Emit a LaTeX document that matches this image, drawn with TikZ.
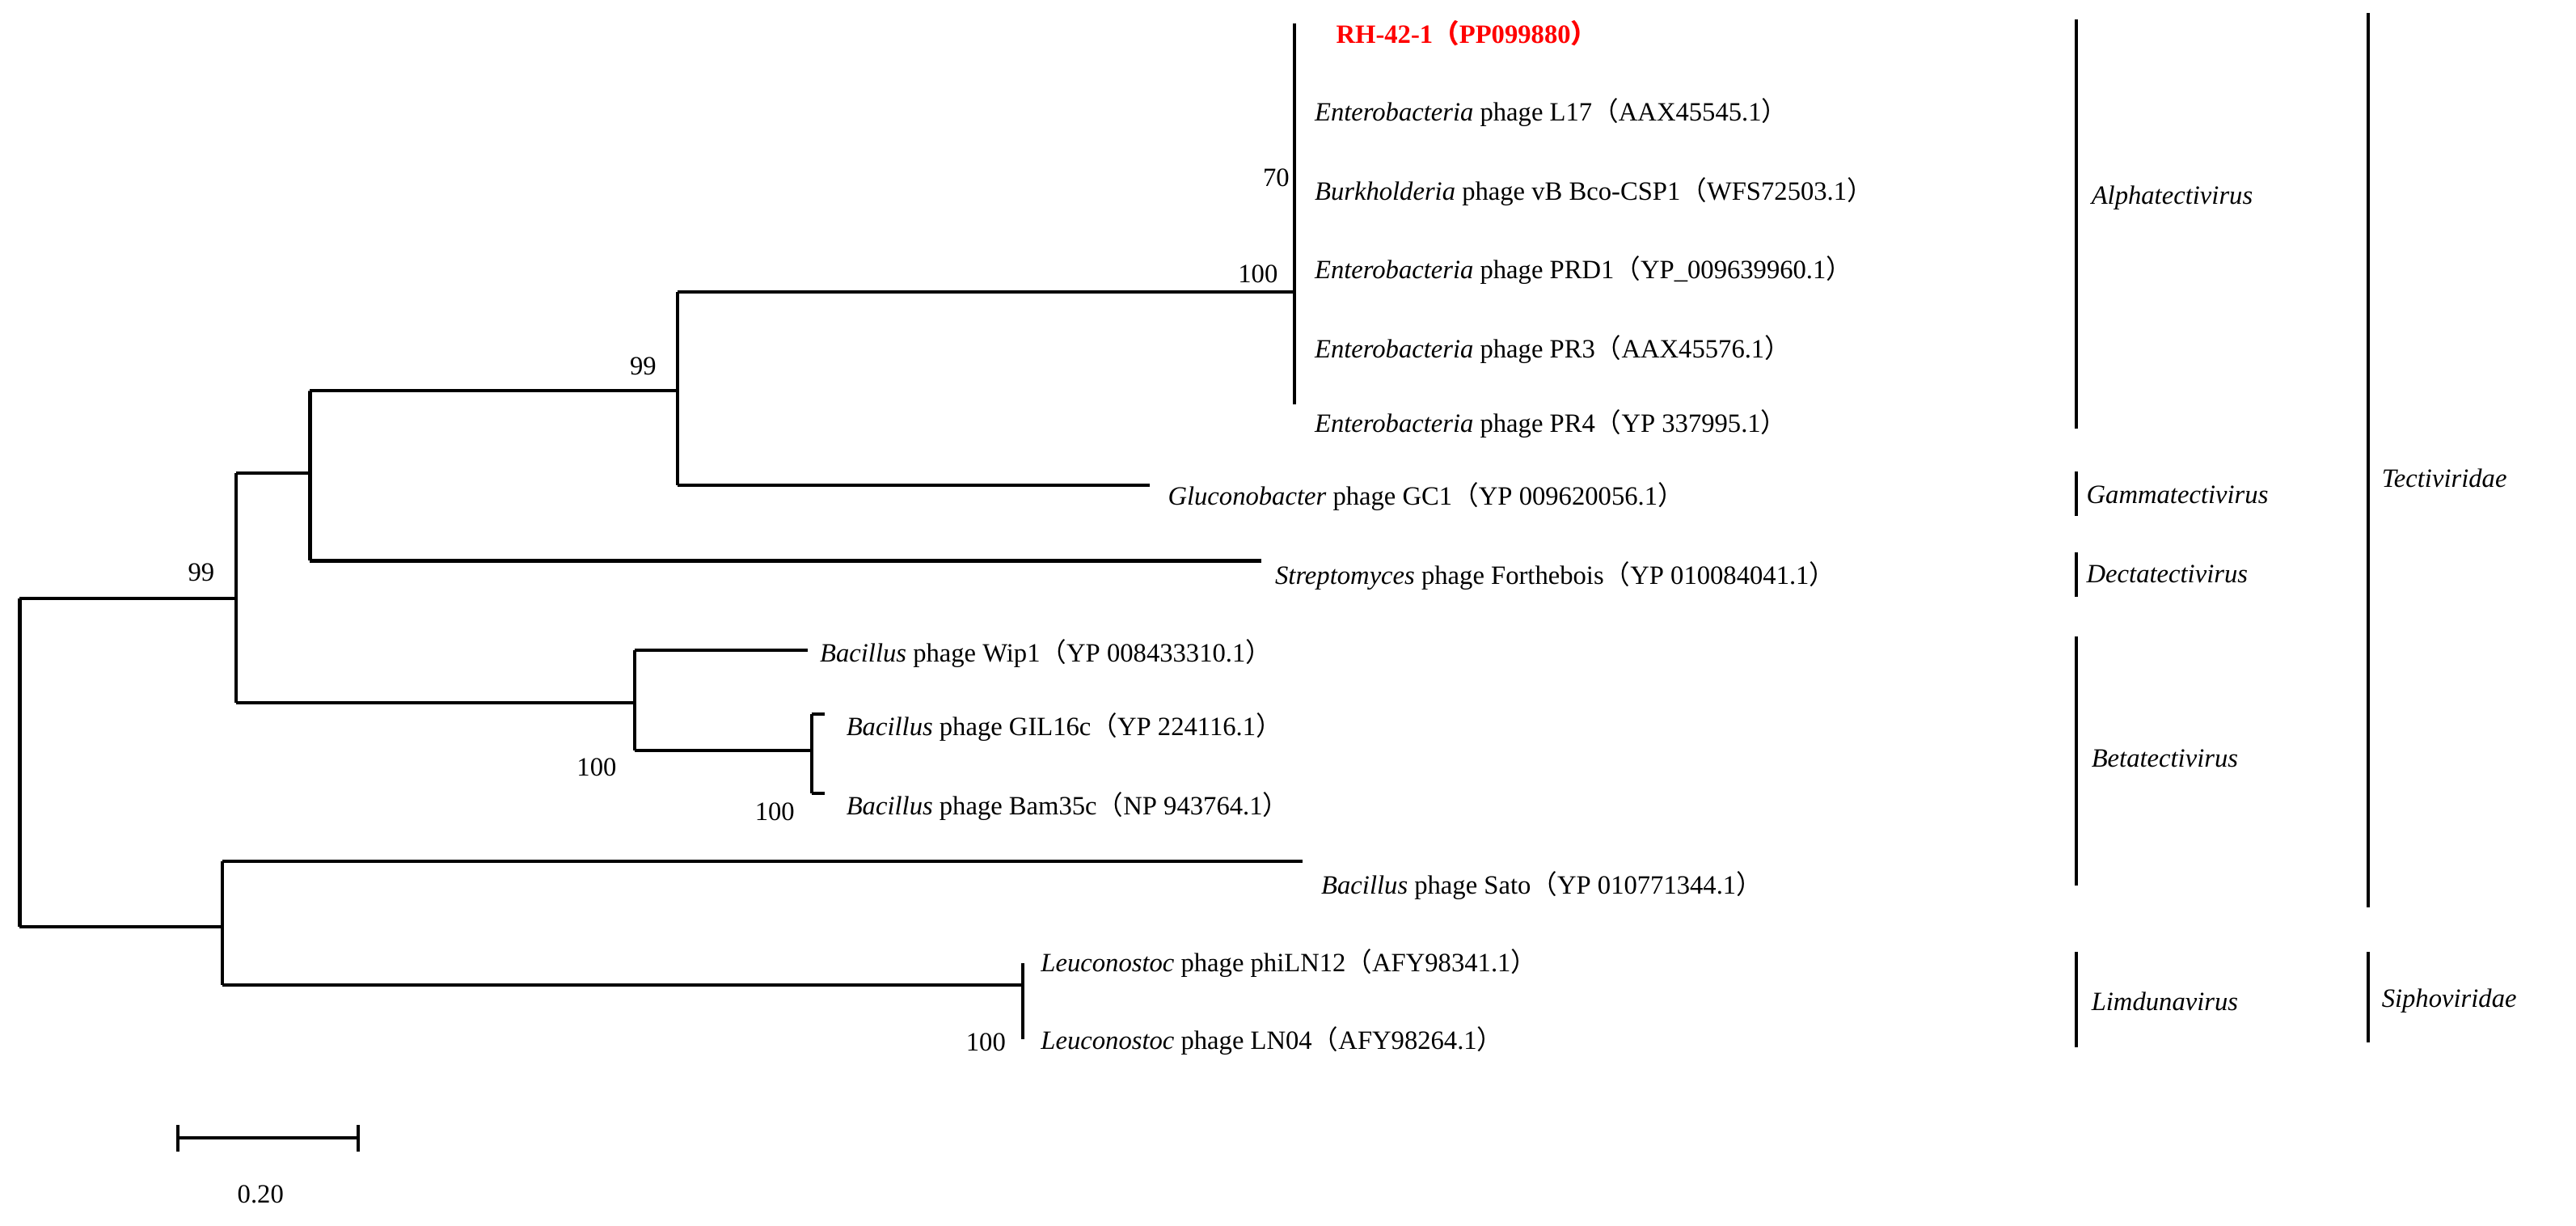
\documentclass[tikz,border=0pt]{standalone}
\usepackage{fontspec}
\setmainfont{Liberation Serif}
\newfontfamily\cjk{Noto Sans CJK SC}
\newcommand{\lp}{{\cjk （}}
\newcommand{\rp}{{\cjk ）}}
\begin{document}
\begin{tikzpicture}[x=1pt,y=-1pt,
  br/.style={line width=2pt},
  leaf/.style={anchor=west,inner sep=0pt,font=\fontsize{16}{16}\selectfont},
  boot/.style={inner sep=0pt,font=\fontsize{16}{16}\selectfont},
  tax/.style={anchor=west,inner sep=0pt,font=\fontsize{16}{16}\selectfont\itshape}]
\useasboundingbox (0,0) rectangle (1562,743);
% tree
\draw[br] (12,363) -- (12,562);
\draw[br] (12,363) -- (143,363);
\draw[br] (143,287) -- (143,426);
\draw[br] (143,287) -| (188,237) -- (188,340);
\draw[br] (188,237) -| (411,177) -- (411,294);
\draw[br] (411,177) -- (785,177);
\draw[br] (785,14) -- (785,245);
\draw[br] (411,294) -- (697,294);
\draw[br] (188,340) -- (765,340);
\draw[br] (143,426) -- (385,426);
\draw[br] (385,394) -- (385,455);
\draw[br] (385,394) -- (490,394);
\draw[br] (385,455) -- (492,455);
\draw[br] (492,433) -- (492,481);
\draw[br] (492,433) -- (500,433);
\draw[br] (492,481) -- (500,481);
\draw[br] (12,562) -- (135,562);
\draw[br] (135,522) -- (135,597);
\draw[br] (135,522) -- (790,522);
\draw[br] (135,597) -- (620,597);
\draw[br] (620,584) -- (620,630);
% leaves
\node[leaf,text=red,font=\fontsize{16}{16}\selectfont\bfseries] (l1) at (810,20) {RH-42-1\lp PP099880\rp};
\node[leaf] (l2) at (797,68) {\textit{Enterobacteria} phage L17\lp AAX45545.1\rp};
\node[leaf] (l3) at (797,116) {\textit{Burkholderia} phage vB Bco-CSP1\lp WFS72503.1\rp};
\node[leaf] (l4) at (797,164) {\textit{Enterobacteria} phage PRD1\lp YP\_009639960.1\rp};
\node[leaf] (l5) at (797,212) {\textit{Enterobacteria} phage PR3\lp AAX45576.1\rp};
\node[leaf] (l6) at (797,257) {\textit{Enterobacteria} phage PR4\lp YP 337995.1\rp};
\node[leaf] (l7) at (708,301) {\textit{Gluconobacter} phage GC1\lp YP 009620056.1\rp};
\node[leaf] (l8) at (773,349) {\textit{Streptomyces} phage Forthebois\lp YP 010084041.1\rp};
\node[leaf] (l9) at (497,396) {\textit{Bacillus} phage Wip1\lp YP 008433310.1\rp};
\node[leaf] (l10) at (513,441) {\textit{Bacillus} phage GIL16c\lp YP 224116.1\rp};
\node[leaf] (l11) at (513,489) {\textit{Bacillus} phage Bam35c\lp NP 943764.1\rp};
\node[leaf] (l12) at (801,537) {\textit{Bacillus} phage Sato\lp YP 010771344.1\rp};
\node[leaf] (l13) at (631,584) {\textit{Leuconostoc} phage phiLN12\lp AFY98341.1\rp};
\node[leaf] (l14) at (631,631) {\textit{Leuconostoc} phage LN04\lp AFY98264.1\rp};
% bootstrap
\node[boot,anchor=east] (b1) at (782,108) {70};
\node[boot,anchor=east] (b2) at (775,166) {100};
\node[boot] (b3) at (390,222) {99};
\node[boot] (b4) at (122,347) {99};
\node[boot,anchor=east] (b5) at (374,465) {100};
\node[boot,anchor=east] (b6) at (482,492) {100};
\node[boot,anchor=east] (b7) at (610,632) {100};
% clade bars
\draw[br] (1259,12) -- (1259,260);
\node[tax] (t1) at (1268,120) {Alphatectivirus};
\draw[br] (1259,286) -- (1259,313);
\node[tax] (t2) at (1265,300) {Gammatectivirus};
\draw[br] (1259,335) -- (1259,362);
\node[tax] (t3) at (1265,348) {Dectatectivirus};
\draw[br] (1259,386) -- (1259,537);
\node[tax] (t4) at (1268,460) {Betatectivirus};
\draw[br] (1259,577) -- (1259,635);
\node[tax] (t5) at (1268,607) {Limdunavirus};
\draw[br] (1436,8) -- (1436,550);
\node[tax] (t6) at (1444,290) {Tectiviridae};
\draw[br] (1436,577) -- (1436,632);
\node[tax] (t7) at (1444,607) {Siphoviridae};
% scale bar
\coordinate (s1) at (108,690);
\coordinate (s2) at (217,690);
\draw[br] (s1) -- (s2);
\draw[br] (108,682) -- (108,698);
\draw[br] (217,682) -- (217,698);
\node[boot] (sl) at (158,724) {0.20};
\end{tikzpicture}
\end{document}
